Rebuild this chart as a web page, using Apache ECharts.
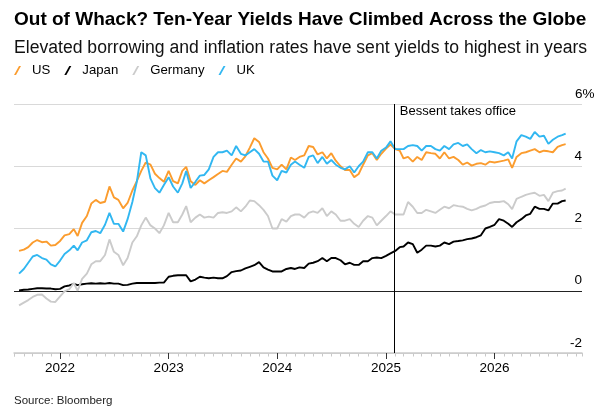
<!DOCTYPE html>
<html>
<head>
<meta charset="utf-8">
<script src="https://cdn.jsdelivr.net/npm/echarts@6/dist/echarts.min.js"></script>
<style>
  html, body { margin: 0; padding: 0; background: #fff; }
  #chart { width: 601px; height: 412px; }
</style>
</head>
<body>
<div id="chart"></div>
<script>
// half-monthly dates, mid Aug 2021 to end Aug 2026
var dates = [];
for (var y = 2021; y <= 2026; y++) {
  for (var m = 1; m <= 12; m++) {
    ["01", "16"].forEach(function (d) {
      var s = y + "-" + (m < 10 ? "0" + m : m) + "-" + d;
      if (s >= "2021-08-16" && s <= "2026-08-16") dates.push(s);
    });
  }
}
dates.push("2026-08-28");

var usYields = [
  1.28, 1.32, 1.40, 1.55, 1.63, 1.56, 1.58, 1.45, 1.47,
  1.60, 1.78, 1.82, 1.98, 1.76, 2.18, 2.40, 2.80, 2.92, 2.82, 2.86, 3.35, 3.00, 2.92, 2.65, 2.82, 3.22, 3.52, 3.85, 4.12, 4.05, 3.76, 3.62, 3.50,
  3.85, 3.52, 3.45, 3.85, 3.98, 3.52, 3.40, 3.55, 3.45, 3.55, 3.65, 3.75, 3.85, 3.82, 4.05, 4.25, 4.15, 4.32, 4.60, 4.90, 4.78, 4.45, 4.25, 3.95,
  3.90, 4.05, 3.90, 4.28, 4.20, 4.30, 4.35, 4.65, 4.62, 4.38, 4.45, 4.25, 4.42, 4.18, 4.00, 3.88, 3.88, 3.65, 3.75, 4.05, 4.35, 4.42, 4.20, 4.40,
  4.57, 4.70, 4.55, 4.50, 4.25, 4.30, 4.15, 4.30, 4.20, 4.45, 4.42, 4.40, 4.25, 4.45, 4.25, 4.30, 4.20, 4.05, 4.12, 4.02, 4.08, 4.10, 4.05, 4.15,
  4.12, 4.15, 4.18, 4.22, 3.95, 4.30, 4.42, 4.45, 4.50, 4.55, 4.45, 4.50, 4.48, 4.45, 4.62, 4.68, 4.71
];
var japanYields = [
  0.01, 0.03, 0.04, 0.06, 0.08, 0.08, 0.07, 0.07, 0.05,
  0.06, 0.14, 0.17, 0.22, 0.18, 0.21, 0.23, 0.24, 0.23, 0.24, 0.23, 0.25, 0.23, 0.23, 0.18, 0.19, 0.23, 0.25, 0.25, 0.25, 0.25, 0.25, 0.26, 0.26,
  0.45, 0.48, 0.50, 0.50, 0.50, 0.30, 0.36, 0.45, 0.42, 0.40, 0.42, 0.40, 0.40, 0.47, 0.60, 0.63, 0.65, 0.72, 0.77, 0.82, 0.92, 0.75, 0.68, 0.62,
  0.62, 0.62, 0.70, 0.73, 0.70, 0.75, 0.73, 0.87, 0.90, 0.95, 1.05, 0.95, 1.05, 1.05, 0.98, 0.85, 0.90, 0.83, 0.83, 0.95, 0.95, 1.05, 1.07, 1.05,
  1.12, 1.20, 1.28, 1.40, 1.42, 1.55, 1.50, 1.22, 1.32, 1.45, 1.45, 1.42, 1.45, 1.55, 1.50, 1.58, 1.60, 1.62, 1.66, 1.68, 1.72, 1.78, 2.00, 2.05,
  2.12, 2.30, 2.25, 2.15, 2.05, 2.20, 2.30, 2.42, 2.47, 2.70, 2.63, 2.63, 2.58, 2.80, 2.80, 2.88, 2.90
];
var germanyYields = [
  -0.47, -0.38, -0.30, -0.20, -0.13, -0.12, -0.25, -0.35, -0.36,
  -0.18, -0.02, 0.05, 0.25, 0.00, 0.38, 0.55, 0.85, 0.95, 0.95, 1.15, 1.65, 1.25, 1.15, 0.82, 1.05, 1.55, 1.75, 2.10, 2.35, 2.10, 2.00, 1.85, 2.10,
  2.50, 2.20, 2.20, 2.45, 2.72, 2.20, 2.35, 2.45, 2.35, 2.38, 2.35, 2.50, 2.52, 2.50, 2.55, 2.68, 2.55, 2.70, 2.90, 2.88, 2.75, 2.60, 2.40, 2.00,
  2.00, 2.30, 2.22, 2.40, 2.45, 2.45, 2.35, 2.50, 2.55, 2.50, 2.65, 2.40, 2.55, 2.45, 2.25, 2.25, 2.30, 2.15, 2.05, 2.25, 2.40, 2.35, 2.10, 2.25,
  2.40, 2.55, 2.45, 2.45, 2.45, 2.85, 2.70, 2.50, 2.50, 2.60, 2.55, 2.50, 2.60, 2.70, 2.65, 2.75, 2.72, 2.70, 2.63, 2.58, 2.63, 2.70, 2.74, 2.82,
  2.85, 2.85, 2.88, 2.78, 2.62, 2.95, 3.02, 3.08, 3.12, 3.15, 3.05, 3.08, 2.88, 3.15, 3.20, 3.22, 3.28
];
var ukYields = [
  0.55, 0.70, 0.90, 1.10, 1.15, 1.05, 1.00, 0.85, 0.78,
  0.97, 1.18, 1.30, 1.45, 1.30, 1.55, 1.62, 1.88, 1.92, 1.85, 2.12, 2.50, 2.15, 2.15, 1.90, 2.30, 2.85, 3.50, 4.45, 4.35, 3.60, 3.30, 3.15, 3.40,
  3.65, 3.35, 3.15, 3.45, 3.85, 3.30, 3.50, 3.70, 3.72, 3.90, 4.30, 4.45, 4.45, 4.50, 4.35, 4.65, 4.40, 4.35, 4.45, 4.55, 4.40, 4.15, 4.15, 3.70,
  3.55, 3.85, 3.80, 4.05, 4.15, 4.05, 3.95, 4.30, 4.35, 4.10, 4.30, 4.08, 4.20, 4.05, 3.95, 3.90, 4.00, 3.80, 4.00, 4.15, 4.45, 4.45, 4.25, 4.50,
  4.60, 4.80, 4.55, 4.55, 4.55, 4.65, 4.68, 4.65, 4.50, 4.65, 4.65, 4.55, 4.50, 4.65, 4.55, 4.70, 4.75, 4.65, 4.70, 4.55, 4.42, 4.52, 4.45, 4.48,
  4.45, 4.42, 4.35, 4.45, 4.25, 4.80, 5.00, 4.95, 4.88, 5.10, 4.95, 4.98, 4.72, 4.85, 4.95, 5.00, 5.05
];

var yTicks = [-2, 0, 2, 4, 6];
var bessentDate = "2025-01-27";
var bessentText = "Bessent takes office";

var font = "'Liberation Sans', Arial, Helvetica, sans-serif";
var colors = {
  US: "#fb9c2e",
  Japan: "#000000",
  Germany: "#cbcbcb",
  UK: "#31b7f1",
};
var slash = "path://M0,9 L5,0 L7,0 L2,9 Z";

function pairs(vals) {
  return vals.map(function (v, i) {
    return [dates[i], v];
  });
}

function lineSeries(name, vals) {
  return {
    name: name,
    type: "line",
    data: pairs(vals),
    showSymbol: false,
    symbol: "none",
    lineStyle: { color: colors[name], width: 1.9 },
    itemStyle: { color: colors[name] },
    emphasis: { disabled: true },
  };
}

var myChart = echarts.init(document.getElementById("chart"));
var xMin = "2021-07-30";
var xMax = "2026-10-22";
var DAY = 24 * 3600 * 1000;

var yBase = {
  type: "value",
  position: "right",
  min: yTicks[0],
  max: yTicks[yTicks.length - 1],
  interval: 2,
  axisLine: { show: false },
  axisTick: { show: false },
};
var yLabelBase = {
  showMinLabel: true,
  showMaxLabel: true,
  verticalAlign: "bottom",
  padding: [0, 0, 3, 0],
  fontFamily: font,
  fontSize: 13.5,
  color: "#000",
};

var option = {
  animation: false,
  textStyle: { fontFamily: font },
  title: [
    {
      text: "Out of Whack? Ten-Year Yields Have Climbed Across the Globe",
      left: 14,
      top: 10,
      padding: 0,
      textStyle: { fontFamily: font, fontSize: 19, fontWeight: "bold", color: "#000" },
    },
    {
      text: "Elevated borrowing and inflation rates have sent yields to highest in years",
      left: 14,
      top: 39,
      padding: 0,
      textStyle: { fontFamily: font, fontSize: 17.6, fontWeight: "normal", color: "#111" },
    },
    {
      text: "Source: Bloomberg",
      left: 14,
      top: 395,
      padding: 0,
      textStyle: { fontFamily: font, fontSize: 11.5, fontWeight: "normal", color: "#222" },
    },
  ],
  legend: {
    left: 14,
    top: 64,
    padding: 0,
    itemWidth: 7,
    itemHeight: 9,
    itemGap: 14,
    selectedMode: false,
    textStyle: { fontFamily: font, fontSize: 13.2, color: "#000", padding: [0, 0, 0, 6] },
    data: ["US", "Japan", "Germany", "UK"].map(function (n) {
      return { name: n, icon: slash, itemStyle: { color: colors[n] } };
    }),
  },
  grid: { left: 14, right: 19, top: 104, bottom: 59 },
  xAxis: [
    {
      type: "time",
      position: "bottom",
      min: xMin,
      max: xMax,
      minInterval: 365 * DAY,
      maxInterval: 367 * DAY,
      axisLine: { onZero: false, lineStyle: { color: "#cccccc", width: 1.5 } },
      axisTick: { show: true, length: 6, lineStyle: { color: "#333", width: 1 } },
      axisLabel: {
        formatter: "{yyyy}",
        fontFamily: font,
        fontSize: 13.5,
        color: "#000",
        margin: 8,
        showMinLabel: false,
        showMaxLabel: false,
      },
      splitLine: { show: false },
      z: 3,
    },
    {
      // monthly minor ticks
      type: "time",
      position: "bottom",
      min: xMin,
      max: xMax,
      minInterval: 28 * DAY,
      maxInterval: 31 * DAY,
      axisLine: { show: false, onZero: false },
      axisTick: { show: true, length: 3.5, lineStyle: { color: "#c8c8c8", width: 1 } },
      axisLabel: { show: false },
      splitLine: { show: false },
    },
  ],
  yAxis: [
    Object.assign({}, yBase, {
      splitLine: {
        show: true,
        lineStyle: { color: ["#cccccc", "#222222", "#d9d9d9", "#d9d9d9", "#d9d9d9"], width: 1 },
      },
      axisLabel: Object.assign({}, yLabelBase, {
        margin: 0,
        align: "right",
        formatter: function (v) {
          return v === 6 ? "" : String(v);
        },
      }),
    }),
    Object.assign({}, yBase, {
      splitLine: { show: false },
      axisLabel: Object.assign({}, yLabelBase, {
        margin: -7,
        align: "left",
        formatter: function (v) {
          return v === 6 ? "6%" : "";
        },
      }),
    }),
  ],
  series: [
    Object.assign(lineSeries("US", usYields), {
      markLine: {
        silent: true,
        symbol: "none",
        label: { show: false },
        lineStyle: { color: "#000", width: 1, type: "solid" },
        data: [{ xAxis: bessentDate }],
      },
      markPoint: {
        silent: true,
        symbol: "circle",
        symbolSize: 0,
        data: [{ coord: [bessentDate, 5.75] }],
        label: {
          show: true,
          position: "right",
          distance: 6,
          formatter: bessentText,
          fontFamily: font,
          fontSize: 13,
          color: "#000",
        },
      },
    }),
    lineSeries("Japan", japanYields),
    lineSeries("Germany", germanyYields),
    lineSeries("UK", ukYields),
  ],
};

if (option && typeof option === "object") {
  myChart.setOption(option);
}
</script>
</body>
</html>
